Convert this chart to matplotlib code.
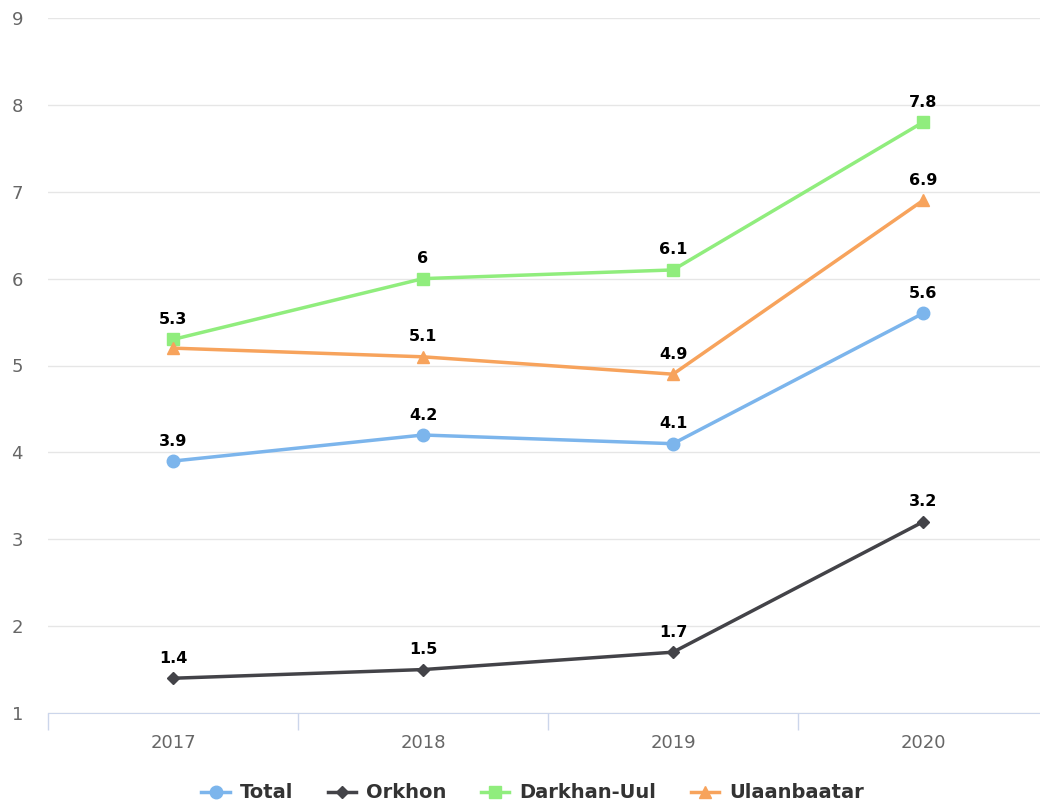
import matplotlib.pyplot as plt
from matplotlib.lines import Line2D

years = ['2017', '2018', '2019', '2020']
total = [3.9, 4.2, 4.1, 5.6]
orkhon = [1.4, 1.5, 1.7, 3.2]
darkhan = [5.3, 6.0, 6.1, 7.8]
ulaanbaatar = [5.2, 5.1, 4.9, 6.9]

series = [
    ('Total', total, '#7cb5ec', 'o', 9),
    ('Orkhon', orkhon, '#434348', 'D', 6),
    ('Darkhan-Uul', darkhan, '#90ed7d', 's', 8),
    ('Ulaanbaatar', ulaanbaatar, '#f7a35c', '^', 9),
]
# labels hidden where they overlap (Highcharts style)
hidden = {('Ulaanbaatar', 0)}

plt.rcParams['font.family'] = ['DejaVu Sans']
fig = plt.figure(figsize=(10.4, 8.02), dpi=100)
ax = fig.add_axes([48 / 1040, 89 / 802, 1000 / 1040, 695 / 802])

x = list(range(len(years)))
handles = []
for name, vals, col, mk, ms in series:
    ax.plot(x, vals, color=col, lw=2.5, marker=mk, ms=ms, zorder=3, clip_on=False)
    handles.append(Line2D([], [], color=col, lw=2.5, marker=mk, ms=ms))
    for i, v in enumerate(vals):
        if (name, i) in hidden:
            continue
        lbl = ('%g' % v)
        ax.annotate(lbl, (i, v), xytext=(0, 9), textcoords='offset points',
                    ha='center', va='bottom', fontsize=11.5, fontweight='bold',
                    color='black', zorder=4)

ax.set_xlim(-0.5, 3.5)
ax.set_ylim(1, 9)
ax.set_yticks(range(1, 10))
ax.set_xticks(x)
ax.set_xticklabels(years)
ax.set_xticks([-0.5, 0.5, 1.5, 2.5, 3.5], minor=True)
ax.tick_params(axis='x', which='major', length=0, pad=15, labelsize=13, labelcolor='#666666')
ax.tick_params(axis='x', which='minor', length=12, color='#ccd6eb', width=1)
ax.tick_params(axis='y', length=0, pad=18, labelsize=13, labelcolor='#666666')
for lab in ax.get_yticklabels():
    lab.set_ha('right')
ax.grid(axis='y', color='#e6e6e6', lw=1)
ax.set_axisbelow(True)
for s in ['top', 'right', 'left']:
    ax.spines[s].set_visible(False)
ax.spines['bottom'].set_color('#ccd6eb')

fig.legend(handles, [s[0] for s in series], loc='center', bbox_to_anchor=(0.512, 9 / 802),
           ncol=4, frameon=False, prop={'weight': 'bold', 'size': 14}, labelcolor='#333333',
           handlelength=1.45, columnspacing=1.8, handletextpad=0.5)

fig.savefig('out.png', dpi=100)
